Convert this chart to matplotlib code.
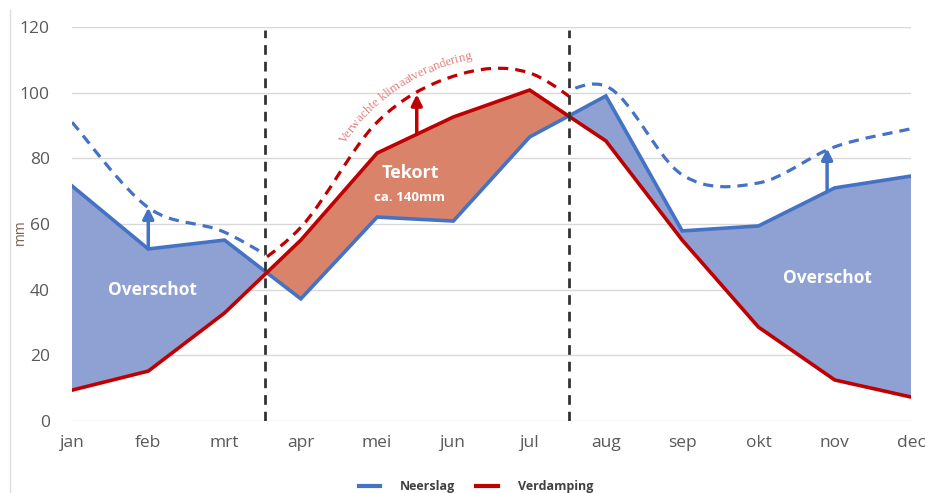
import numpy as np
import matplotlib
matplotlib.use('Agg')
import matplotlib.pyplot as plt
from matplotlib.path import Path
from matplotlib.patches import PathPatch, Rectangle
from matplotlib.lines import Line2D
from matplotlib.font_manager import FontProperties
from matplotlib.transforms import IdentityTransform

maanden = ['jan', 'feb', 'mrt', 'apr', 'mei', 'jun', 'jul', 'aug', 'sep', 'okt', 'nov', 'dec']
neerslag = [71.6, 52.4, 55.1, 37.2, 62.1, 60.9, 86.5, 99.0, 57.9, 59.4, 71.0, 74.6]
verdamping = [9.4, 15.2, 32.9, 55.1, 81.6, 92.6, 100.8, 85.3, 55.1, 28.6, 12.5, 7.3]

# verwachte waarden (gestippelde lijnen)
neerslag_toek_links = [91, 65, 57.5, 44]                 # jan - apr
neerslag_toek_rechts = [94, 102, 75, 72.5, 83.5, 89]     # jul - dec
verdamping_toek = [41, 59, 91, 105, 106, 90]             # mrt - aug

grenzen = [2.53, 6.51]
# pijlen: (maand-index, waarde verwacht)
pijlen_blauw = [(1.0, 65), (9.9, 83)]
pijlen_rood = [(4.52, 99.5)]

blauw = '#4472C4'
rood = '#C00000'
blauw_vlak = '#8FA0D2'
rood_vlak = '#D9836A'


def glad_pad(x, y):
    # catmull-rom door de punten, als bezier pad
    pts = np.column_stack([x, y]).astype(float)
    p = np.vstack([pts[0], pts, pts[-1]])
    verts = [pts[0]]
    codes = [Path.MOVETO]
    for i in range(1, len(p) - 2):
        c1 = p[i] + (p[i + 1] - p[i - 1]) / 6
        c2 = p[i + 1] - (p[i + 2] - p[i]) / 6
        verts += [c1, c2, p[i + 1]]
        codes += [Path.CURVE4] * 3
    return Path(verts, codes)


def stippel(ax, pad, kleur, x0, x1):
    patch = PathPatch(pad, fill=False, edgecolor=kleur, lw=2.3, linestyle=(0, (3.2, 2.2)), zorder=4)
    ax.add_patch(patch)
    patch.set_clip_path(Rectangle((x0, -10), x1 - x0, 150, transform=ax.transData))


def tekst_langs_pad(ax, pad, tekst, x_start, afstand, fp, kleur):
    fig = ax.figure
    r = fig.canvas.get_renderer()
    pts = pad.to_polygons(ax.transData, closed_only=False)[0]
    d = np.gradient(pts, axis=0)
    d /= np.hypot(d[:, 0], d[:, 1])[:, None]
    n = np.column_stack([-d[:, 1], d[:, 0]])
    off = pts + n * afstand
    s = np.concatenate([[0], np.cumsum(np.hypot(*np.diff(off, axis=0).T))])
    xs = ax.transData.transform((x_start, 0))[0]
    s0 = np.interp(xs, pts[:, 0], s)
    for i, ch in enumerate(tekst):
        if ch == ' ':
            continue
        w1 = r.get_text_width_height_descent(tekst[:i + 1], fp, ismath=False)[0]
        wc = r.get_text_width_height_descent(ch, fp, ismath=False)[0]
        sc = s0 + w1 - wc / 2
        px = np.interp(sc, s, off[:, 0])
        py = np.interp(sc, s, off[:, 1])
        ang = np.degrees(np.arctan2(np.interp(sc, s, d[:, 1]), np.interp(sc, s, d[:, 0])))
        fig.text(px, py, ch, transform=IdentityTransform(), rotation=ang, ha='center',
                 va='baseline', rotation_mode='anchor', fontproperties=fp, color=kleur)


fig = plt.figure(figsize=(9.42, 4.93), dpi=100)
ax = fig.add_axes([72 / 942, 1 - 421 / 493, (911 - 72) / 942, (421 - 27) / 493])
x = np.arange(len(maanden))
n_arr = np.array(neerslag)
v_arr = np.array(verdamping)

ax.fill_between(x, n_arr, v_arr, where=n_arr >= v_arr, interpolate=True, color=blauw_vlak, lw=0, zorder=2)
ax.fill_between(x, n_arr, v_arr, where=n_arr <= v_arr, interpolate=True, color=rood_vlak, lw=0, zorder=2)
ax.plot(x, neerslag, color=blauw, lw=2.6, zorder=3, solid_joinstyle='miter')
ax.plot(x, verdamping, color=rood, lw=2.6, zorder=3, solid_joinstyle='miter')

stippel(ax, glad_pad(np.arange(0, 4), neerslag_toek_links), blauw, 0, grenzen[0])
stippel(ax, glad_pad(np.arange(6, 12), neerslag_toek_rechts), blauw, grenzen[1], 11)
pad_rood = glad_pad(np.arange(2, 8), verdamping_toek)
stippel(ax, pad_rood, rood, grenzen[0], grenzen[1])

for g in grenzen:
    ax.vlines(g, 0, 119, colors='#333333', lw=2, linestyles=(0, (3.5, 2.5)), zorder=5)

for px_, tip in pijlen_blauw:
    basis = np.interp(px_, x, neerslag)
    ax.annotate('', xy=(px_, tip), xytext=(px_, basis), zorder=6,
                arrowprops=dict(arrowstyle='-|>', color=blauw, lw=2.5, mutation_scale=16, shrinkA=0, shrinkB=0))
for px_, tip in pijlen_rood:
    basis = np.interp(px_, x, verdamping)
    ax.annotate('', xy=(px_, tip), xytext=(px_, basis), zorder=6,
                arrowprops=dict(arrowstyle='-|>', color=rood, lw=2.5, mutation_scale=16, shrinkA=0, shrinkB=0))

lab = dict(color='white', fontweight='bold', family='Open Sans', ha='center', va='center', zorder=7)
ax.text(1.05, 40, 'Overschot', fontsize=12.5, **lab)
ax.text(9.9, 43.5, 'Overschot', fontsize=12.5, **lab)
ax.text(4.43, 75.5, 'Tekort', fontsize=13, **lab)
ax.text(4.43, 68, 'ca. 140mm', fontsize=9.5, **lab)

ax.set_xlim(0, 11)
ax.set_ylim(0, 120)
ax.set_yticks(np.arange(0, 121, 20))
ax.set_xticks(x)
ax.set_xticklabels(maanden)
ax.grid(axis='y', color='#D9D9D9', lw=1)
ax.set_axisbelow(True)
for sp in ax.spines.values():
    sp.set_visible(False)
ax.tick_params(length=0, labelsize=12.5, labelcolor='#595959', pad=10)
ax.tick_params(axis='y', pad=16)
for t in ax.get_xticklabels() + ax.get_yticklabels():
    t.set_family('Open Sans')
ax.set_ylabel('mm', color='#7F6050', fontsize=10, family='Open Sans')
ax.yaxis.set_label_coords(-44 / 839, 0.48)

fig.add_artist(Line2D([10 / 942, 10 / 942], [0, 0.98], color='#DDDDDD', lw=1))

handles = [Line2D([], [], color=blauw, lw=3), Line2D([], [], color=rood, lw=3)]
fig.legend(handles, ['Neerslag', 'Verdamping'], loc='center', bbox_to_anchor=(0.505, 0.013),
           ncol=2, frameon=False, handlelength=1.7, handletextpad=1.6, columnspacing=1.7,
           prop=FontProperties(family='Open Sans', weight='bold', size=9), labelcolor='#404040')

fp = FontProperties(family='Liberation Serif', size=9.3)
tekst_langs_pad(ax, pad_rood, 'Verwachte klimaatverandering', 3.7, 12, fp, '#E28080')

fig.savefig('out.png', dpi=100)
